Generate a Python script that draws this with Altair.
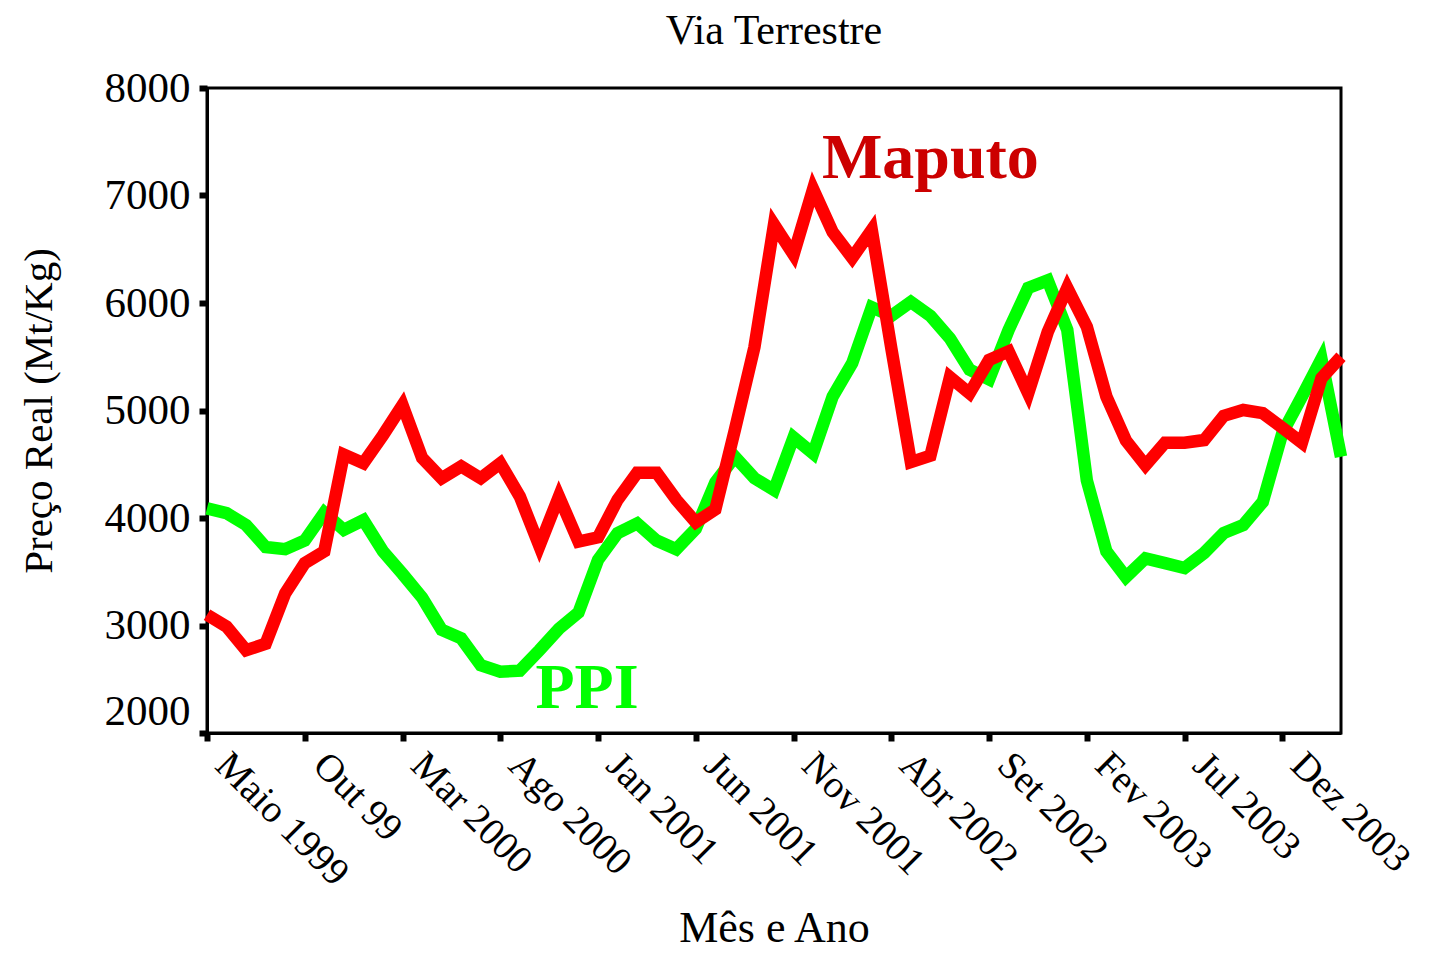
import altair as alt
import pandas as pd

tick_labels = ["Maio 1999", "Out 99", "Mar 2000", "Ago 2000", "Jan 2001", "Jun 2001",
               "Nov 2001", "Abr 2002", "Set 2002", "Fev 2003", "Jul 2003", "Dez 2003"]

maputo = [3100, 2990, 2770, 2830, 3300, 3580, 3690, 4590, 4510, 4770,
          5050, 4560, 4370, 4480, 4370, 4510, 4200, 3740, 4200, 3780,
          3820, 4170, 4420, 4420, 4170, 3960, 4080, 4820, 5590, 6730,
          6450, 7060, 6660, 6420, 6680, 5580, 4520, 4580, 5310, 5160,
          5470, 5550, 5160, 5730, 6140, 5780, 5130, 4720, 4490, 4700,
          4700, 4725, 4950, 5005, 4975, 4840, 4700, 5300, 5500]

ppi = [4090, 4045, 3935, 3730, 3710, 3790, 4050, 3890, 3980, 3690,
       3480, 3260, 2960, 2880, 2630, 2570, 2580, 2770, 2970, 3120,
       3610, 3860, 3950, 3790, 3710, 3900, 4330, 4570, 4370, 4260,
       4750, 4600, 5130, 5440, 5960, 5880, 6010, 5880, 5670, 5380,
       5290, 5750, 6140, 6210, 5750, 4350, 3690, 3450, 3625, 3580,
       3535, 3675, 3860, 3935, 4150, 4790, 5130, 5480, 4570]

ann_text = ["Maputo", "PPI"]
ann_idx = [31.45, 16.8]
ann_val = [7160, 2233]
ann_color = ["#CC0000", "#00FF00"]

rows = []
for i, v in enumerate(maputo):
    rows.append({"idx": i, "value": v, "serie": "Maputo"})
for i, v in enumerate(ppi):
    rows.append({"idx": i, "value": v, "serie": "PPI"})
df = pd.DataFrame(rows)
ann = pd.DataFrame({"idx": ann_idx, "value": ann_val, "text": ann_text, "color": ann_color})

FONT = "Liberation Serif"
label_list = "[" + ",".join("'" + t + "'" for t in tick_labels) + "]"

x_enc = alt.X(
    "idx:Q",
    scale=alt.Scale(domain=[0, 58], nice=False, zero=False),
    axis=alt.Axis(
        values=list(range(0, 56, 5)),
        labelExpr=label_list + "[round(datum.value / 5)]",
        labelAngle=45, labelAlign="left", labelBaseline="alphabetic",
        labelOffset=6, labelPadding=26, labelLimit=400,
        labelFont=FONT, labelFontSize=39, labelColor="black",
        labelOverlap=False, labelFlush=False,
        tickSize=8, tickWidth=6, tickColor="black",
        domainColor="black", domainWidth=3, grid=False,
        title="Mês e Ano", titleFont=FONT, titleFontSize=44,
        titleFontWeight="normal", titleColor="black", titlePadding=14,
    ),
)
y_enc = alt.Y(
    "value:Q",
    scale=alt.Scale(domain=[2000, 8000], nice=False, zero=False),
    axis=alt.Axis(
        values=[2000, 3000, 4000, 5000, 6000, 7000, 8000], format="d",
        labelFont=FONT, labelFontSize=43, labelColor="black", labelPadding=9,
        labelBaseline={"condition": {"test": "datum.value == 2000", "value": "bottom"}, "value": "middle"},
        labelOverlap=False, labelFlush=False,
        tickSize=8, tickWidth=6, tickColor="black",
        domainColor="black", domainWidth=3, grid=False,
        title="Preço Real (Mt/Kg)", titleFont=FONT, titleFontSize=41,
        titleFontWeight="normal", titleColor="black", titlePadding=44,
    ),
)

color_scale = alt.Scale(domain=["Maputo", "PPI"], range=["#FF0000", "#00FF00"])

green = alt.Chart(df).transform_filter("datum.serie == 'PPI'").mark_line(
    strokeWidth=12.5, strokeJoin="miter", strokeCap="butt"
).encode(x=x_enc, y=y_enc, color=alt.Color("serie:N", scale=color_scale, legend=None))

red = alt.Chart(df).transform_filter("datum.serie == 'Maputo'").mark_line(
    strokeWidth=12.5, strokeJoin="miter", strokeCap="butt"
).encode(x=x_enc, y=y_enc, color=alt.Color("serie:N", scale=color_scale, legend=None))

labels = alt.Chart(ann).mark_text(
    align="left", baseline="alphabetic", font=FONT, fontWeight="bold", fontSize=64
).encode(x="idx:Q", y="value:Q", text="text:N", color=alt.Color("color:N", scale=None))

chart = alt.layer(green, red, labels).properties(
    width=1134, height=645,
    title=alt.TitleParams("Via Terrestre", font=FONT, fontSize=42, fontWeight="normal",
                          color="black", anchor="middle", offset=14),
    autosize=alt.AutoSizeParams(type="none"),
    padding={"left": 199, "top": 80, "right": 82, "bottom": 225},
    background="white",
).configure_view(stroke="black", strokeWidth=3)

chart.save("out.html", embed_options={"renderer": "svg", "actions": False})
